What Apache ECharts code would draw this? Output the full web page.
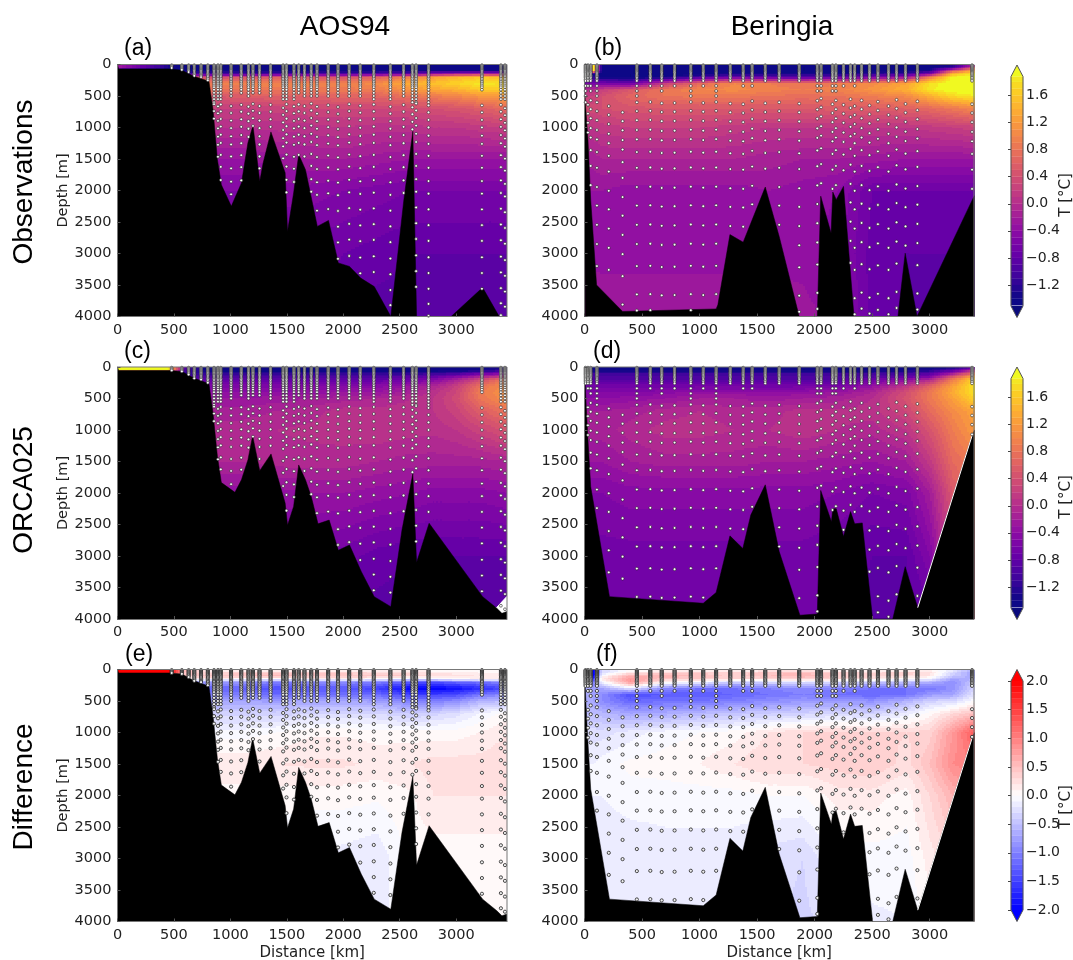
<!DOCTYPE html>
<html><head><meta charset="utf-8">
<style>html,body{margin:0;padding:0;background:#fff}#c{width:1073px;height:960px}</style>
<script src="https://cdn.jsdelivr.net/npm/echarts@6/dist/echarts.min.js"></script>
</head><body><div id="c"></div>
<script>
// ---------- axes ----------
const xTicksLeft=[0,500,1000,1500,2000,2500,3000];
const xTicksRight=[0,500,1000,1500,2000,2500,3000];
const depthTicks=[0,500,1000,1500,2000,2500,3000,3500,4000];
const tempTicks=[1.6,1.2,0.8,0.4,0,-0.4,-0.8,-1.2];
const diffTicks=[2,1.5,1,0.5,0,-0.5,-1,-1.5,-2];
const tempLevels=[-1.5,-1.4,-1.3,-1.2,-1.1,-1,-0.9,-0.8,-0.7,-0.6,-0.5,-0.4,-0.3,-0.2,-0.1,0,0.1,0.2,0.3,0.4,0.5,0.6,0.7,0.8,0.9,1,1.1,1.2,1.3,1.4,1.5,1.6,1.7,1.8,1.88];
const diffLevels=[-2,-1.9,-1.8,-1.7,-1.6,-1.5,-1.4,-1.3,-1.2,-1.1,-1,-0.9,-0.8,-0.7,-0.6,-0.5,-0.4,-0.3,-0.2,-0.1,0,0.1,0.2,0.3,0.4,0.5,0.6,0.7,0.8,0.9,1,1.1,1.2,1.3,1.4,1.5,1.6,1.7,1.8,1.9,2];

// ---------- field sampling grid ----------
const depthLevels=[0,50,100,150,200,300,400,500,700,1000,1500,2000,3000,4000];
const colA=[0,450,600,800,1100,1400,1700,2000,2300,2600,2800,3000,3200,3450];
const colB=[0,80,150,400,700,1000,1300,1600,1900,2200,2500,2800,3000,3200,3390];

const fieldA=[
[-.2,-1.3,-1.5,-1.5,-1.5,-1.5,-1.5,-1.5,-1.5,-1.5,-1.5,-1.5,-1.5,-1.5],
[-.2,-1.3,-1.5,-1.5,-1.5,-1.5,-1.5,-1.5,-1.5,-1.5,-1.5,-1.5,-1.5,-1.5],
[-1.45,-1.45,-1.45,-1.45,-1.45,-1.45,-1.45,-1.45,-1.45,-1.45,-1.4,-1.4,-1.4,-1.4],
[-1,-1,-1,-1,-1,-.9,-.9,-.9,-.8,-.7,-.3,-.1,0,-.1],
[.4,.4,.4,.4,.45,.55,.45,.45,.6,.95,1.25,1.45,1.6,1.5],
[.9,.9,.9,.9,.95,1,.95,.95,1.05,1.4,1.55,1.7,1.85,1.8],
[.75,.75,.75,.75,.8,.85,.85,.85,.9,1.15,1.3,1.4,1.6,1.6],
[.5,.5,.5,.5,.55,.6,.6,.65,.65,.8,.9,1,1.15,1.25],
[.2,.2,.2,.2,.2,.25,.3,.3,.3,.35,.4,.45,.55,.7],
[0,0,0,0,0,.03,.05,.1,.05,.05,.1,.1,.15,.2],
[-.3,-.3,-.3,-.3,-.3,-.25,-.2,-.2,-.25,-.3,-.3,-.3,-.3,-.3],
[-.5,-.5,-.5,-.5,-.5,-.45,-.45,-.5,-.55,-.6,-.6,-.6,-.6,-.6],
[-.65,-.65,-.65,-.65,-.65,-.65,-.65,-.7,-.75,-.8,-.8,-.8,-.8,-.8],
[-.7,-.7,-.7,-.7,-.7,-.7,-.7,-.75,-.85,-.85,-.85,-.85,-.85,-.85]];

const fieldC=[
[2,2,-.9,-1.5,-1.5,-1.5,-1.5,-1.5,-1.5,-1.5,-1.5,-1.5,-1.5,-1.3],
[2,2,-1,-1.5,-1.5,-1.5,-1.5,-1.5,-1.5,-1.5,-1.5,-1.5,-1.4,-1.2],
[-1.2,-1.2,-1.2,-1.2,-1.2,-1.2,-1.2,-1.2,-1.2,-1.2,-1.15,-1.05,-.75,-.5],
[-1,-1,-1,-1,-1,-.95,-.95,-.95,-.95,-.9,-.8,-.55,-.2,.1],
[-.8,-.8,-.8,-.8,-.8,-.8,-.8,-.8,-.8,-.7,-.5,-.15,.3,.85],
[-.55,-.55,-.55,-.55,-.55,-.55,-.5,-.5,-.45,-.3,-.1,.2,.75,1.1],
[-.4,-.4,-.4,-.4,-.4,-.4,-.35,-.3,-.3,-.15,.05,.3,.85,1.15],
[-.3,-.3,-.3,-.3,-.3,-.25,-.2,-.15,-.1,0,.1,.35,.8,1.1],
[-.15,-.15,-.15,-.15,-.15,-.1,-.05,.05,.05,.05,.1,.25,.55,.8],
[-.05,-.05,-.05,-.05,-.05,0,.03,.05,.08,.05,.03,.1,.25,.45],
[-.1,-.1,-.1,-.1,-.1,-.05,-.05,-.05,-.1,-.15,-.15,-.15,-.15,-.1],
[-.35,-.35,-.35,-.35,-.35,-.35,-.3,-.3,-.35,-.4,-.45,-.45,-.45,-.4],
[-.6,-.6,-.6,-.6,-.6,-.6,-.6,-.65,-.75,-.8,-.8,-.8,-.8,-.8],
[-.7,-.7,-.7,-.7,-.7,-.7,-.7,-.7,-.85,-.85,-.85,-.85,-.85,-.85]];

const fieldE=[
[2.2,2.2,.6,0,0,0,0,0,0,0,0,0,.05,.05],
[2.2,2.2,.5,.3,.35,.4,.35,.35,.3,.25,.2,.15,.1,.1],
[.4,.4,.4,.45,.5,.55,.5,.5,.45,.4,.3,.25,.2,.15],
[.1,.1,.1,.1,0,-.05,.05,.1,0,-.2,-.1,.05,.1,.1],
[-.8,-.8,-.8,-.8,-.8,-1,-.9,-.9,-1,-1.3,-1.4,-1.2,-1.1,-.9],
[-1.2,-1.2,-1.2,-1.2,-1.2,-1.4,-1.3,-1.3,-1.5,-2,-2,-1.9,-1.7,-1.4],
[-1,-1,-1,-1,-1,-1.15,-1.1,-1.1,-1.15,-1.5,-1.5,-1.4,-1.1,-.9],
[-.7,-.7,-.7,-.7,-.7,-.75,-.7,-.7,-.75,-1,-1,-.9,-.6,-.5],
[-.35,-.35,-.35,-.35,-.35,-.35,-.3,-.3,-.3,-.4,-.35,-.25,-.1,.05],
[-.05,-.05,-.05,-.05,-.05,0,.08,.08,.05,.05,.05,.05,.1,.2],
[.18,.18,.18,.18,.18,.2,.22,.22,.18,.2,.25,.25,.25,.28],
[.05,.05,.05,.05,.05,.06,.04,.04,.02,.08,.2,.2,.2,.2],
[-.12,-.12,-.12,-.12,-.12,-.12,-.12,-.14,-.18,.04,.04,.04,.04,.04],
[-.18,-.18,-.18,-.18,-.18,-.18,-.18,-.18,-.18,.03,.03,.03,.03,.03]];

const fieldB=[
[-1.5,1.95,-1.5,-1.5,-1.5,-1.5,-1.5,-1.5,-1.5,-1.5,-1.5,-1.5,-1.5,-1.5,-.5],
[-1.5,1.95,-1.5,-1.5,-1.5,-1.5,-1.5,-1.5,-1.5,-1.5,-1.5,-1.5,-1.5,-1,.6],
[-1.5,1.9,-1.5,-1.5,-1.5,-1.5,-1.5,-1.5,-1.5,-1.5,-1.5,-1.5,-1.3,.5,1.4],
[-1.5,-1.4,-1.5,-1.5,-1.5,-1.5,-1.3,-1.3,-1.35,-1.3,-1.2,-1.05,-.5,1.5,1.9],
[-1.4,-1.2,-1.45,-1.5,-1.4,-1,-.7,-.8,-.9,-.8,-.6,-.3,.9,1.95,1.95],
[-.6,-.6,-.6,-.7,.2,.7,1,.9,.8,.9,1.05,1.3,1.8,2,2],
[0,0,.2,.5,.85,1,1.05,.95,.9,.95,1.15,1.4,1.85,2,2],
[.2,.2,.4,.65,.8,.85,.85,.8,.75,.8,.9,1.05,1.4,1.75,1.88],
[.35,.35,.4,.45,.5,.5,.5,.5,.5,.55,.55,.6,.7,.85,1],
[.1,.1,.15,.2,.2,.2,.15,.1,.1,.1,.1,.1,.15,.2,.25],
[-.15,-.15,-.1,-.1,-.1,-.1,-.1,-.15,-.2,-.2,-.25,-.3,-.3,-.3,-.3],
[-.3,-.3,-.3,-.35,-.35,-.35,-.35,-.3,-.35,-.4,-.7,-.7,-.7,-.7,-.7],
[-.35,-.35,-.35,-.35,-.35,-.35,-.35,-.35,-.35,-.45,-.75,-.8,-.8,-.8,-.8],
[-.15,-.15,-.2,-.2,-.2,-.2,-.2,-.2,-.25,-.35,-.75,-.8,-.85,-.85,-.85]];

const fieldD=[
[-1.5,-1.5,-1.5,-1.5,-1.5,-1.5,-1.5,-1.5,-1.5,-1.5,-1.5,-1.5,-1.5,-1.4,-1],
[-1.5,-1.5,-1.5,-1.5,-1.5,-1.5,-1.5,-1.5,-1.5,-1.5,-1.5,-1.4,-1.3,-.9,0],
[-1.1,-1.1,-1.1,-1.1,-1.1,-1.1,-1.1,-1.1,-1.1,-1.1,-1.1,-1.05,-.9,-.3,.8],
[-1,-1,-1,-1,-1,-1,-1,-1,-1,-1,-.95,-.85,-.6,.4,1.3],
[-.9,-.9,-.9,-.9,-.9,-.9,-.9,-.9,-.9,-.9,-.7,-.4,-.1,.9,1.75],
[-.65,-.65,-.65,-.65,-.65,-.65,-.65,-.65,-.65,-.6,-.35,.1,.6,1.25,1.85],
[-.5,-.5,-.5,-.5,-.45,-.35,-.35,-.4,-.35,-.3,-.1,.4,.85,1.35,1.85],
[-.4,-.4,-.4,-.35,-.3,-.2,-.2,-.25,-.2,-.15,0,.45,.85,1.25,1.7],
[-.2,-.2,-.2,-.15,-.05,0,-.05,-.05,.05,.03,.05,.3,.7,1.05,1.3],
[-.15,-.15,-.15,-.05,.05,.05,0,0,.08,0,-.05,.1,.45,.9,1.2],
[-.3,-.3,-.3,-.2,-.15,-.15,-.15,-.2,-.2,-.25,-.3,-.2,.15,.7,.9],
[-.5,-.5,-.5,-.45,-.45,-.45,-.45,-.45,-.45,-.5,-.6,-.55,-.2,.5,.7],
[-.65,-.65,-.65,-.65,-.65,-.65,-.65,-.65,-.65,-.7,-.8,-.8,-.5,.3,.5],
[-.6,-.6,-.6,-.6,-.6,-.6,-.6,-.6,-.65,-.75,-.85,-.85,-.8,.2,.4]];

const fieldF=[
[0,-2.2,-.3,-.1,0,0,0,0,0,0,0,0,0,-.1,-.6],
[-.2,-2.2,-.3,.2,.3,.35,.35,.45,.5,.35,.3,.35,.25,-.3,-.8],
[-.2,-2,0,.6,.6,.5,.35,.5,.6,.4,.35,.3,.2,-.4,-.7],
[-.1,-1.5,.2,.8,.4,.4,.3,.3,.35,.3,.2,0,-.1,-.7,-.6],
[-.6,-1,-.1,.8,.1,-.1,-.4,-.3,-.2,-.3,-.4,-.5,-.6,-.9,-.4],
[-.6,-.8,-.7,-.2,-.9,-1.1,-1.1,-1,-.9,-1,-1.1,-1.1,-1.1,-.85,-.3],
[-.6,-.7,-.9,-1.4,-1.3,-1.3,-1.2,-1.1,-1,-1.1,-1.2,-1.1,-.8,-.7,-.2],
[-.6,-.7,-.9,-1.2,-1.1,-1.1,-1,-.9,-.8,-.8,-.85,-.6,-.35,-.3,0],
[-.5,-.5,-.55,-.7,-.65,-.55,-.45,-.4,-.35,-.3,-.35,-.15,.05,.3,.5],
[-.25,-.25,-.25,-.15,-.05,0,.05,.2,.3,.35,.35,.3,.35,.8,1.3],
[-.1,-.1,-.05,.03,.05,.1,.2,.3,.3,.35,.4,.25,.5,.9,1],
[-.1,-.1,-.1,-.05,-.05,-.05,-.05,0,0,.15,.15,.05,.3,.6,.8],
[-.18,-.18,-.18,-.18,-.15,-.15,-.15,-.25,-.3,-.08,-.05,-.05,.15,.3,.5],
[-.18,-.18,-.18,-.18,-.18,-.18,-.22,-.28,-.33,-.25,-.12,-.1,.05,.2,.3]];

// ---------- bathymetry [distance km, depth m] ----------
const terrainObsA=[[0,0],[8,0],[10,70],[465,70],[570,90],[675,185],[810,265],[846,715],[885,1510],[920,1910],[1008,2250],[1098,1880],[1155,1245],[1200,970],[1260,1855],[1290,1565],[1359,1070],[1485,1720],[1506,2650],[1560,2040],[1605,1430],[1665,1670],[1770,2570],[1869,2475],[1956,3150],[2055,3205],[2154,3390],[2274,3525],[2421,4000],[2535,2170],[2616,1060],[2649,4000],[2700,4100],[2900,4100],[2955,4000],[3234,3540],[3381,4000],[3450,4050]];
const terrainModA=[[0,0],[8,0],[10,55],[465,55],[570,70],[675,175],[810,265],[846,730],[885,1420],[920,1835],[1040,1990],[1098,1790],[1155,1475],[1197,1090],[1260,1645],[1360,1380],[1485,2160],[1506,2510],[1560,2215],[1605,1555],[1665,1790],[1716,2055],[1776,2490],[1875,2430],[1956,2910],[2055,2825],[2160,3250],[2274,3645],[2421,3805],[2520,2585],[2616,1695],[2649,3105],[2760,2480],[3234,3645],[3360,3830],[3405,3910],[3450,3880]];
const terrainObsB=[[0,0],[3,0],[6,560],[30,1190],[54,2150],[105,3500],[331,3920],[1144,3880],[1159,3815],[1264,2700],[1379,2820],[1445,2520],[1571,1945],[1692,2730],[1866,4000],[2023,4000],[2053,2090],[2143,2680],[2158,2025],[2188,2145],[2251,1935],[2342,4000],[2724,4000],[2787,2995],[2890,4000],[3371,2145],[3390,2080]];
const terrainModB=[[0,0],[3,0],[15,625],[30,1155],[54,1900],[217,3645],[1032,3750],[1144,3580],[1264,2680],[1376,2880],[1445,2350],[1571,1870],[1692,2930],[1872,3940],[2023,3920],[2053,1960],[2146,2455],[2158,2250],[2188,2250],[2251,2690],[2312,2295],[2348,2490],[2414,2475],[2504,4000],[2679,4000],[2787,3170],[2896,3820],[3371,1075],[3390,1000]];
const whitePatchC=[[3340,3830],[3360,3815],[3450,3640]];
const whiteEdgeB=[[2896,3820],[3371,1075]];

// ---------- sampling stations [distance km, dense-profile limit m, depth offset m] ----------
const stationsA=[[480,60,0],[570,85,0],[630,120,0],[680,185,0],[740,220,0],[800,270,0],[855,600,-20],[890,550,15],[915,550,-15],[1006,500,10],[1096,450,-10],[1160,500,20],[1200,450,-25],[1258,450,10],[1356,500,-10],[1467,550,40],[1497,550,-20],[1563,550,15],[1605,450,-15],[1656,500,10],[1716,500,-30],[1767,500,20],[1866,500,-5],[1953,500,25],[2052,500,-20],[2150,500,5],[2270,550,-15],[2417,550,20],[2534,500,-10],[2612,600,30],[2645,600,-30],[2755,600,0],[3228,400,0],[3396,550,-10],[3432,550,45]];
const denseA=[10,25,40,55,70,85,100,120,140,160,180,200,225,250,275,300,330,360,400,450,500,550,600];
const deepA=[650,760,880,1000,1130,1260,1450,1640,1850,2050,2300,2550,2800,3060,3310,3560,3800,3990];
const stationsB=[[9,500,0],[30,400,40],[54,450,-30],[108,500,0],[211,0,60],[331,0,160],[455,500,0],[572,400,-5],[671,430,15],[783,340,10],[924,500,-5],[1032,340,10],[1144,500,-5],[1267,300,20],[1379,400,30],[1457,400,-20],[1571,260,15],[1692,300,0],[1866,260,20],[2023,420,-25],[2056,420,-60],[2155,420,30],[2185,420,-30],[2251,340,40],[2312,300,-50],[2348,340,60],[2408,300,-30],[2477,300,50],[2550,300,-10],[2642,300,60],[2712,300,-40],[2790,300,25],[2893,300,-15],[3368,330,30]];
const denseB=[10,25,40,55,70,85,100,115,130,150,170,190,210,235,260,340,420,500];
const deepB=[600,740,885,1040,1190,1390,1640,1945,2240,2545,2850,3200,3650,3905];

// ---------- colour maps ----------
const plasmaStops=['#0d0887','#41049d','#6a00a8','#8f0da4','#b12a90','#cc4778','#e16462','#f2844b','#fca636','#fcce25','#f0f921'];
function hex(h){return [1,3,5].map(i=>parseInt(h.substr(i,2),16));}
function plasma(v){
  if(v<-1.5)return '#0a0a7c';
  if(v>=1.88)return '#f0f921';
  v=(Math.floor(v*10)+.5)/10;
  const t=Math.max(0,Math.min(1,(v+1.4)/3.4))*10,i=Math.min(9,Math.floor(t)),f=t-i;
  const a=hex(plasmaStops[i]),b=hex(plasmaStops[i+1]);
  return 'rgb('+a.map((c,k)=>Math.round(c+(b[k]-c)*f)).join(',')+')';
}
function bwr(v){
  v=Math.max(-2,Math.min(2,v));
  const s=(Math.floor(v*10)+.5)/10,g=Math.round(255*(1-Math.min(1,Math.abs(s)/2)));
  if(Math.abs(v)>=2)return v>0?'rgb(255,0,0)':'rgb(0,0,255)';
  return s>0?`rgb(255,${g},${g})`:`rgb(${g},${g},255)`;
}

// ---------- panels ----------
const panels=[
 {x:117.5,y:64.5,w:389.5,xmax:3450,cols:colA,f:fieldA,cm:plasma,t:terrainObsA,st:stationsA,dn:denseA,dp:deepA,depth:true},
 {x:584.5,y:64.5,w:389.5,xmax:3385,cols:colB,f:fieldB,cm:plasma,t:terrainObsB,st:stationsB,dn:denseB,dp:deepB},
 {x:117.5,y:367,w:389.5,xmax:3450,cols:colA,f:fieldC,cm:plasma,t:terrainModA,st:stationsA,dn:denseA,dp:deepA,depth:true,patch:whitePatchC},
 {x:584.5,y:367,w:389.5,xmax:3385,cols:colB,f:fieldD,cm:plasma,t:terrainModB,st:stationsB,dn:denseB,dp:deepB,edge:whiteEdgeB},
 {x:117.5,y:669.5,w:389.5,xmax:3450,cols:colA,f:fieldE,cm:bwr,t:terrainModA,st:stationsA,dn:denseA,dp:deepA,depth:true,dist:true,diff:true},
 {x:584.5,y:669.5,w:389.5,xmax:3385,cols:colB,f:fieldF,cm:bwr,t:terrainModB,st:stationsB,dn:denseB,dp:deepB,dist:true,diff:true,edge:whiteEdgeB}
];
const font='"DejaVu Sans"',sans='"Liberation Sans"',tickSize=14.5,lab='#222';
const grid=[],xAxis=[],yAxis=[],series=[];

function cellItems(p){
  const out=[];
  for(let j=0;j<depthLevels.length-1;j++)for(let i=0;i<p.cols.length-1;i++){
    out.push([p.cols[i],depthLevels[j],p.cols[i+1],depthLevels[j+1],p.f[j][i],p.f[j][i+1],p.f[j+1][i],p.f[j+1][i+1]]);
  }
  return out;
}
function fieldRender(cm){
  return function(params,api){
    const a=api.coord([api.value(0),api.value(1)]),b=api.coord([api.value(2),api.value(3)]);
    const v00=api.value(4),v10=api.value(5),v01=api.value(6),v11=api.value(7);
    const x0=Math.round(a[0]),x1=Math.round(b[0]),y0=Math.round(a[1]),y1=Math.round(b[1]);
    const children=[];
    for(let y=y0;y<y1;y+=2){
      const yn=Math.min(y+2,y1),ty=(y+(yn-y)/2-a[1])/(b[1]-a[1]);
      let runStart=x0,runColor=null;
      for(let x=x0;x<x1;x+=2){
        const tx=(x+1-a[0])/(b[0]-a[0]);
        const v=(v00*(1-tx)+v10*tx)*(1-ty)+(v01*(1-tx)+v11*tx)*ty;
        const col=cm(v);
        if(col!==runColor){
          if(runColor)children.push({type:'rect',shape:{x:runStart,y:y,width:x-runStart,height:yn-y},style:{fill:runColor}});
          runStart=x;runColor=col;
        }
      }
      children.push({type:'rect',shape:{x:runStart,y:y,width:x1-runStart,height:yn-y},style:{fill:runColor}});
    }
    return {type:'group',children:children,silent:true};
  };
}
function terrainAt(t,x){
  for(let i=0;i<t.length-1;i++)if(x>=t[i][0]&&x<=t[i+1][0]){
    const f=(x-t[i][0])/(t[i+1][0]-t[i][0]||1);
    return t[i][1]+(t[i+1][1]-t[i][1])*f;
  }
  return 4000;
}
function dots(p){
  const out=[];
  for(const s of p.st){
    const lim=terrainAt(p.t,s[0])+12;
    for(const d of p.dn)if(d<=s[1]&&d<=lim)out.push([s[0],d]);
    for(const d of p.dp){const y=d+s[2];if(y<=lim&&y<=4000&&y>s[1])out.push([s[0],y]);}
  }
  return out;
}
panels.forEach((p,n)=>{
  grid.push({left:p.x,top:p.y,width:p.w,height:252,outerBoundsMode:'none'});
  xAxis.push({gridIndex:n,type:'value',min:0,max:p.xmax,position:'bottom',
    name:p.dist?'Distance [km]':'',nameLocation:'middle',nameGap:24,nameTextStyle:{fontFamily:font,fontSize:15,color:lab},
    axisLine:{show:true,onZero:false,lineStyle:{color:'#777'}},splitLine:{show:false},
    axisTick:{show:true,inside:true,length:3,lineStyle:{color:'#555'},customValues:xTicksLeft},
    axisLabel:{fontFamily:font,fontSize:tickSize,color:lab,margin:6,customValues:n%2?xTicksRight:xTicksLeft,formatter:v=>String(v)},z:10});
  yAxis.push({gridIndex:n,type:'value',min:0,max:4000,inverse:true,position:'left',
    name:p.depth?'Depth [m]':'',nameLocation:'middle',nameGap:43,nameTextStyle:{fontFamily:font,fontSize:14.5,color:lab},
    axisLine:{show:true,onZero:false,lineStyle:{color:'#777'}},splitLine:{show:false},
    axisTick:{show:true,inside:true,length:3,lineStyle:{color:'#555'},customValues:depthTicks},
    axisLabel:{fontFamily:font,fontSize:tickSize,color:lab,margin:6,customValues:depthTicks,formatter:v=>String(v)},z:10});
  series.push({type:'custom',xAxisIndex:n,yAxisIndex:n,coordinateSystem:'cartesian2d',z:1,silent:true,progressive:0,animation:false,clip:true,
    renderItem:fieldRender(p.cm),encode:{x:[0,2],y:[1,3]},data:cellItems(p)});
  if(p.patch)series.push({type:'line',xAxisIndex:n,yAxisIndex:n,z:2,silent:true,animation:false,symbol:'none',data:p.patch,
    lineStyle:{color:'#fff',width:1},areaStyle:{origin:'end',color:'#fff',opacity:1}});
  series.push({type:'line',xAxisIndex:n,yAxisIndex:n,z:3,silent:true,animation:false,symbol:'none',data:p.t,
    lineStyle:{color:'#000',width:.5},areaStyle:{origin:'end',color:'#000',opacity:1}});
  if(p.edge)series.push({type:'line',xAxisIndex:n,yAxisIndex:n,z:4,silent:true,animation:false,symbol:'none',data:p.edge,lineStyle:{color:'#fff',width:1}});
  series.push({type:'scatter',xAxisIndex:n,yAxisIndex:n,z:5,silent:true,animation:false,symbol:'circle',
    symbolSize:p.diff?3.2:2.8,itemStyle:{color:p.diff?'#eee':'#fff',borderColor:'#222',borderWidth:p.diff?.8:.6,opacity:1},data:dots(p)});
  series.push({type:'line',xAxisIndex:n,yAxisIndex:n,z:6,silent:true,animation:false,symbol:'none',clip:false,
    data:[[0,0],[p.xmax,0],[p.xmax,4000]],lineStyle:{color:'#777',width:1}});
});

// ---------- colour bars ----------
const bars=[
 {top:76.5,h:229.5,min:-1.51,max:1.88,ticks:tempTicks,levels:tempLevels,cm:plasma,lo:'#0a0a7c',hi:'#f0f921'},
 {top:378.5,h:229.5,min:-1.51,max:1.88,ticks:tempTicks,levels:tempLevels,cm:plasma,lo:'#0a0a7c',hi:'#f0f921'},
 {top:681,h:229,min:-2,max:2,ticks:diffTicks,levels:diffLevels,cm:bwr,lo:'#0000ff',hi:'#ff0000'}
];
const unitLabels=[['T [°C]',1066,195],['T [°C]',1066,497],['T [°C]',1066,807]];
bars.forEach(b=>{
  const n=grid.length,over=11.5*(b.max-b.min)/b.h;
  grid.push({left:1011,top:b.top,width:12,height:b.h,outerBoundsMode:'none'});
  xAxis.push({gridIndex:n,type:'value',min:0,max:1,show:false});
  yAxis.push({gridIndex:n,type:'value',min:b.min,max:b.max,position:'right',
    axisLine:{show:false},splitLine:{show:false},
    axisTick:{show:true,inside:true,length:3,lineStyle:{color:'#444'},customValues:b.ticks},
    axisLabel:{fontFamily:font,fontSize:14,color:lab,margin:3,customValues:b.ticks,formatter:v=>Number(v).toFixed(1).replace('-','\u2212')}});
  const bands=b.levels.slice(0,-1).map((l,i)=>[.5,l,b.levels[i+1]]);
  series.push({type:'custom',xAxisIndex:n,yAxisIndex:n,z:1,silent:true,animation:false,encode:{x:0,y:[1,2]},
    renderItem:(params,api)=>{
      const lo=api.value(1),hi=api.value(2),p0=api.coord([0,lo]),p1=api.coord([1,hi]);
      return {type:'rect',shape:{x:p0[0],y:p1[1],width:p1[0]-p0[0],height:p0[1]-p1[1]},style:{fill:b.cm((lo+hi)/2),stroke:b.cm((lo+hi)/2),lineWidth:.3}};
    },data:bands});
  series.push({type:'custom',xAxisIndex:n,yAxisIndex:n,z:2,silent:true,animation:false,encode:{x:0,y:1},
    renderItem:(params,api)=>{
      const pts=[[0,b.max],[.5,b.max+over],[1,b.max],[1,b.min],[.5,b.min-over],[0,b.min]].map(q=>api.coord(q));
      const tri=(q)=>({type:'polygon',shape:{points:q.map(r=>api.coord(r))}});
      return {type:'group',children:[
        Object.assign(tri([[0,b.max],[.5,b.max+over],[1,b.max]]),{style:{fill:b.hi}}),
        Object.assign(tri([[0,b.min],[.5,b.min-over],[1,b.min]]),{style:{fill:b.lo}}),
        {type:'polygon',shape:{points:pts},style:{fill:'none',stroke:'#555',lineWidth:1}}
      ]};
    },data:[[.5,0]]});
});

// ---------- text ----------
const headers=[['AOS94',345,27],['Beringia',782,27]];
const rowLabels=[['Observations',24,182],['ORCA025',24,490],['Difference',24,787]];
const panelTags=[['(a)',124,49],['(b)',594,49],['(c)',124,352],['(d)',593,352],['(e)',125,655],['(f)',596,655]];
const graphic=[];
headers.forEach(h=>graphic.push({type:'text',x:h[1],y:h[2],style:{text:h[0],font:'28px '+sans,fill:'#000',textAlign:'center',textVerticalAlign:'middle'}}));
rowLabels.forEach(h=>graphic.push({type:'text',x:h[1],y:h[2],rotation:Math.PI/2,style:{text:h[0],font:'28px '+sans,fill:'#000',textAlign:'center',textVerticalAlign:'middle'}}));
panelTags.forEach(h=>graphic.push({type:'text',x:h[1],y:h[2],style:{text:h[0],font:'23px '+sans,fill:'#000',textAlign:'left',textVerticalAlign:'middle'}}));
unitLabels.forEach(h=>graphic.push({type:'text',x:h[1],y:h[2],rotation:Math.PI/2,style:{text:h[0],font:'15px '+font,fill:lab,textAlign:'center',textVerticalAlign:'middle'}}));

const chart=echarts.init(document.getElementById('c'),null,{renderer:'canvas'});
chart.setOption({animation:false,backgroundColor:'#fff',grid,xAxis,yAxis,series,graphic});
</script></body></html>
